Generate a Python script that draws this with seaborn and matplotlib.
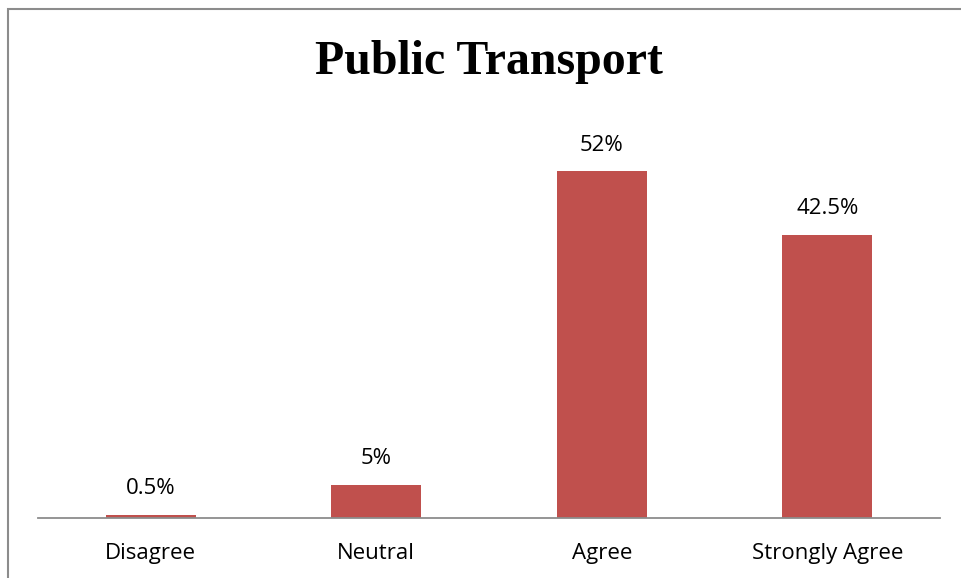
import matplotlib
matplotlib.use("Agg")
import matplotlib.pyplot as plt
import seaborn as sns
import pandas as pd
from matplotlib.patches import Rectangle

# Chart data
categories = ["Disagree", "Neutral", "Agree", "Strongly Agree"]
percentages = [0.5, 5, 52, 42.5]
value_labels = ["0.5%", "5%", "52%", "42.5%"]

BAR_COLOR = "#C0504D"
W, H = 961, 578

sns.set_style("white")
plt.rcParams["font.family"] = ["Open Sans", "DejaVu Sans"]
plt.rcParams["text.color"] = "black"

df = pd.DataFrame({"category": categories, "pct": percentages})

fig = plt.figure(figsize=(W / 100, H / 100), dpi=100)
ax = fig.add_axes([38 / W, (H - 518) / H, (940 - 38) / W, (518 - 118) / H])

sns.barplot(data=df, x="category", y="pct", color=BAR_COLOR, width=0.4,
            saturation=1, linewidth=0, ax=ax)
ax.set_ylim(0, 60)
ax.set_xlim(-0.5, 3.5)

for i, (v, lab) in enumerate(zip(percentages, value_labels)):
    ax.annotate(lab, (i, v), xytext=(0, 11), textcoords="offset points",
                ha="center", va="bottom", fontsize=16, color="black")

ax.set_xlabel("")
ax.set_ylabel("")
ax.set_yticks([])
ax.tick_params(axis="x", length=0, labelsize=16, pad=18, colors="black")
for side in ["top", "right", "left"]:
    ax.spines[side].set_visible(False)
ax.spines["bottom"].set_color("#8c8c8c")
ax.spines["bottom"].set_linewidth(1.3)

fig.text(489 / W, 1 - 62 / H, "Public Transport", ha="center", va="center",
         fontsize=34.5, fontweight="bold", family="Liberation Serif",
         color="black")

# outer chart border (right and bottom edges fall outside the image)
fig.patches.append(Rectangle((8 / W, -0.1), 1.2, 1 - 9 / H + 0.1,
                             transform=fig.transFigure, fill=False,
                             edgecolor="#8c8c8c", linewidth=1.5))

fig.savefig("out.png", dpi=100)
